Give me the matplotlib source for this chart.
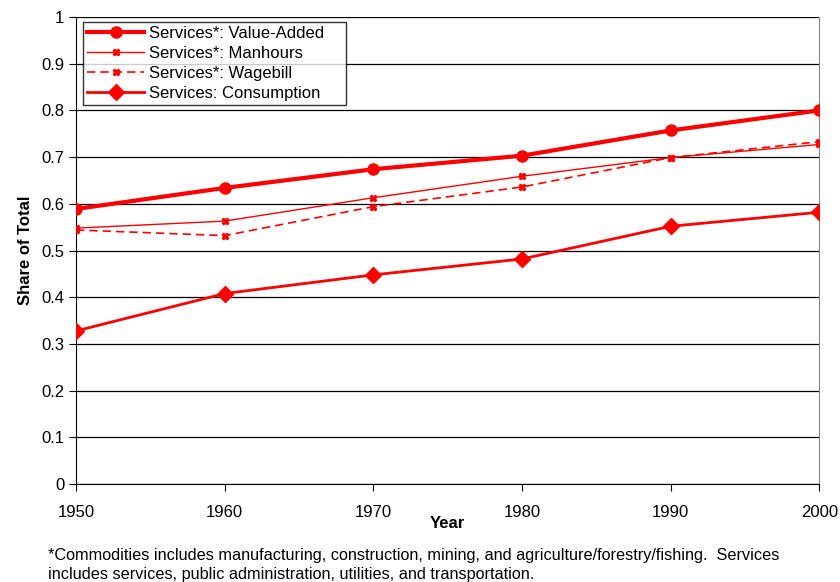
import numpy as np
import matplotlib.pyplot as plt

plt.rcParams['font.family'] = ['Liberation Sans', 'DejaVu Sans']

years = [1950, 1960, 1970, 1980, 1990, 2000]
value_added = [0.589, 0.634, 0.674, 0.703, 0.757, 0.800]
manhours = [0.548, 0.563, 0.613, 0.659, 0.699, 0.727]
wagebill = [0.544, 0.532, 0.594, 0.636, 0.699, 0.733]
consumption = [0.328, 0.408, 0.448, 0.482, 0.552, 0.582]

red = '#ff0000'

fig = plt.figure(figsize=(8.4, 5.82), dpi=100)
ax = fig.add_axes([0.0905, 0.168, 0.885, 0.803])

ax.plot(years, value_added, color=red, lw=3, marker='o', ms=8,
        label='Services*: Value-Added', zorder=5)
ax.plot(years, manhours, color=red, lw=1, marker='X', ms=5,
        label='Services*: Manhours', zorder=4)
ax.plot(years, wagebill, color=red, lw=1.2, ls=(0, (5, 3)), marker='X', ms=5,
        label='Services*: Wagebill', zorder=4)
ax.plot(years, consumption, color=red, lw=2, marker='D', ms=8,
        label='Services: Consumption', zorder=5)

ax.set_xlim(1950, 2000)
ax.set_ylim(0, 1)
ax.set_xticks(years)
ax.set_yticks(np.arange(0, 1.01, 0.1))
ax.set_yticklabels(['0'] + ['%.1f' % v for v in np.arange(0.1, 0.95, 0.1)] + ['1'])
ax.yaxis.grid(True, color='black', lw=0.9)
ax.set_axisbelow(True)
ax.spines['top'].set_visible(False)
ax.spines['right'].set_color('#888888')
ax.tick_params(direction='out', length=5, labelsize=12, color='black')
ax.tick_params(axis='x', pad=10)

ax.set_xlabel('Year', fontsize=12, fontweight='bold', labelpad=-3)
ax.set_ylabel('Share of Total', fontsize=12, fontweight='bold', labelpad=6)

# legend box stretched to a fixed width, text stays left-aligned
leg = ax.legend(loc='upper left', bbox_to_anchor=(0.0094, 0.989, 0.354, 0.0),
                mode='expand', fontsize=12,
                frameon=True, fancybox=False, edgecolor='black',
                borderpad=0.25, labelspacing=0.3, handlelength=3.4,
                handletextpad=0.3, borderaxespad=0)
leg.get_frame().set_linewidth(1)

fig.text(0.057, 0.0, '*Commodities includes manufacturing, construction, mining, and agriculture/forestry/fishing.  Services\nincludes services, public administration, utilities, and transportation.',
         fontsize=11.7, va='bottom', ha='left', linespacing=1.35)

fig.savefig('out.png', dpi=100)
